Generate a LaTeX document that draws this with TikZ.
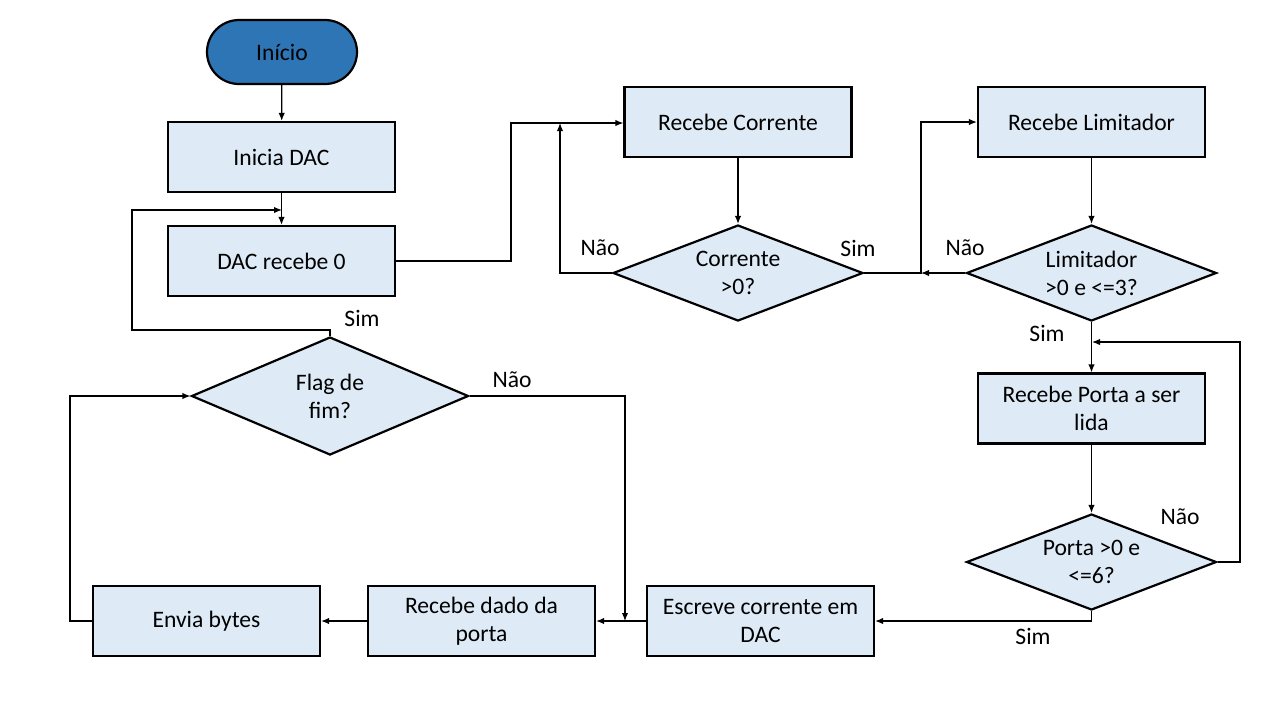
\documentclass[tikz,border=0pt]{standalone}
\usepackage{fontspec}
\setmainfont{Carlito}
\usepackage{tikz}
\usetikzlibrary{shapes.geometric}
\usetikzlibrary{arrows.meta}
\usepackage{xcolor}
\definecolor{boxfill}{HTML}{DEEBF7}
\definecolor{startfill}{HTML}{2E75B6}

\begin{document}
\begin{tikzpicture}[x=0.5pt,y=-0.5pt,
  font=\fontsize{11.8}{14}\selectfont,
  proc/.style={draw, line width=1.1pt, fill=boxfill, minimum width=113.5pt, minimum height=35pt, align=center, inner sep=2pt},
  test/.style={draw, line width=1.1pt, fill=boxfill, diamond, aspect=2.6, minimum width=125pt, minimum height=48pt, inner sep=0pt, align=center},
  term/.style={draw, line width=1.1pt, fill=startfill, rounded corners=16pt, minimum width=75pt, minimum height=32pt},
  conn/.style={line width=0.6pt, -{Latex[length=4pt,width=3.2pt]}},
  lbl/.style={inner sep=0pt}
]
\useasboundingbox (0,0) rectangle (1280,720);

% coluna da esquerda
\node[term](inicio) at (282,52) {Início};
\node[proc](iniciadac) at (281.5,157) {Inicia DAC};
\node[proc](daczero) at (281.5,261) {DAC recebe 0};
\node[test, minimum width=138.5pt, minimum height=59pt](flag) at (330,396) {Flag de\\fim?};

% corrente e limitador
\node[proc](rcorrente) at (738,122) {Recebe Corrente};
\node[test](dcorrente) at (738,273) {Corrente\\>0?};
\node[proc](rlimitador) at (1091.5,122) {Recebe Limitador};
\node[test](dlimitador) at (1091.5,273) {Limitador\\>0 e <=3?};
\node[proc](rporta) at (1091.5,408.5) {Recebe Porta a ser\\lida};
\node[test](dporta) at (1091.5,562) {Porta >0 e\\<=6?};

% linha de baixo
\node[proc](escreve) at (760.5,621) {Escreve corrente em\\DAC};
\node[proc](rdado) at (481.5,621) {Recebe dado da\\porta};
\node[proc](envia) at (206.5,621) {Envia bytes};

% pontos de juncao
\coordinate (jzero) at (282,210);
\coordinate (jcor) at (560,123);
\coordinate (jlim) at (921,273);
\coordinate (jporta) at (1092,342);
\coordinate (jdado) at (625,621);

\draw[conn] (inicio) -- (iniciadac);
\draw[conn] (iniciadac) -- (daczero);
\draw[conn] (flag.north) -- (330,330) -- (132,330) -- (132,210) -- (jzero);
\draw[conn] (daczero.east) -- (511,261) -- (511,123) -- (rcorrente.west |- 0,123);
\draw[conn] (rcorrente) -- (dcorrente);
\draw[conn] (dcorrente.west) -- (560,273) -- (jcor);
\draw[conn] (dcorrente.east) -- (921,273) -- (921,122) -- (rlimitador.west);
\draw[conn] (rlimitador) -- (dlimitador);
\draw[conn] (dlimitador.west) -- (jlim);
\draw[conn] (dlimitador.south) -- (rporta.north);
\draw[conn] (rporta) -- (dporta);
\draw[conn] (dporta.east) -- (1240,562) -- (1240,342) -- (jporta);
\draw[conn] (dporta.south) -- (1091.5,621) -- (escreve.east);
\draw[conn] (escreve.west) -- (rdado.east);
\draw[conn] (flag.east) -- (625,396) -- (jdado);
\draw[conn] (rdado.west) -- (envia.east);
\draw[conn] (envia.west) -- (70,621) -- (70,396) -- (flag.west);

% rotulos
\node[lbl](simflag) at (362,318) {Sim};
\node[lbl](naoflag) at (512,380) {Não};
\node[lbl](naocor) at (600,248) {Não};
\node[lbl](simcor) at (858,248) {Sim};
\node[lbl](naolim) at (965,248) {Não};
\node[lbl](simlim) at (1047,333) {Sim};
\node[lbl](naoporta) at (1180,517) {Não};
\node[lbl](simporta) at (1033,636) {Sim};
\end{tikzpicture}
\end{document}
